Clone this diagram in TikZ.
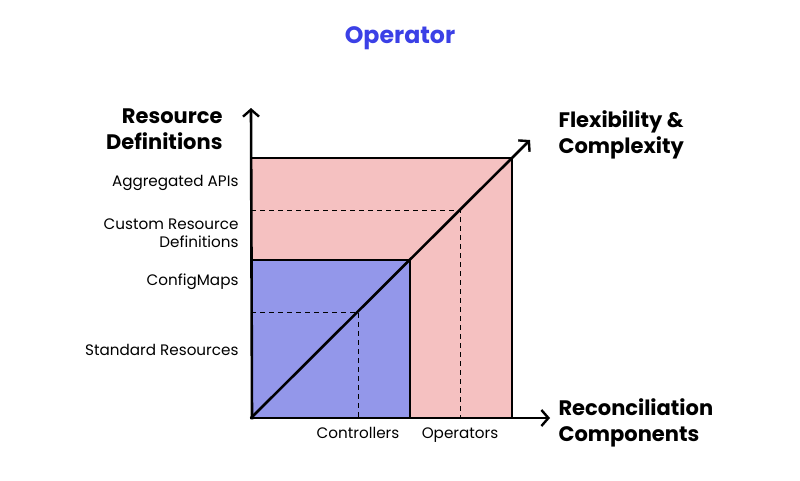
\documentclass[tikz,border=0pt]{standalone}
\usepackage{fontspec}
\setmainfont{Poppins}
\usetikzlibrary{arrows.meta}
\definecolor{titleblue}{HTML}{3B40E6}
\definecolor{pinkfill}{HTML}{F5C1C1}
\definecolor{bluefill}{HTML}{9397EA}
\tikzset{
  axis/.style={line width=2.6pt,-{Straight Barb[length=7pt,width=16pt,line width=2.4pt]}},
  region/.style={draw=black,line width=1.2pt},
  guide/.style={line width=0.9pt,dash pattern=on 5pt off 4pt},
  biglabel/.style={font=\fontsize{21}{26}\selectfont\bfseries,align=left},
  smalllabel/.style={font=\fontsize{15.2}{18}\selectfont,align=right,anchor=east},
  ticklabel/.style={font=\fontsize{15.2}{18}\selectfont,anchor=north}
}
\begin{document}
\begin{tikzpicture}[x=1pt,y=-1pt]
\useasboundingbox (0,0) rectangle (800,480);
\node[font=\fontsize{23.7}{28}\selectfont\bfseries,text=titleblue] (title) at (400,38) {Operator};
\coordinate (o) at (251,418);
\coordinate (ytop) at (251,108);
\coordinate (xend) at (550,418);
\coordinate (dend) at (530,140);
\fill[pinkfill] (251,158) rectangle (512,418);
\draw[region] (251,158) -| (512,418);
\fill[bluefill] (251,260) rectangle (410,418);
\draw[region] (251,260) -| (410,418);
\coordinate (p1) at (460,210);
\coordinate (p2) at (358,312);
\draw[guide] (251,210) -- (p1) -- (460,418);
\draw[guide] (251,312) -- (p2) -- (358,418);
\draw[axis,line cap=round] (o) -- (dend);
\draw[axis] (252,419.3) -- (ytop);
\draw[axis] (249.7,418) -- (xend);
\node[biglabel,align=right,anchor=east] (ylab) at (226,129) {Resource\\Definitions};
\node[biglabel,anchor=west] (dlab) at (555,135) {Flexibility \&\\Complexity};
\node[biglabel,anchor=west] (xlab) at (555,423) {Reconciliation\\Components};
\node[smalllabel] (agg) at (242,183) {Aggregated APIs};
\node[smalllabel] (crd) at (242,233) {Custom Resource\\Definitions};
\node[smalllabel] (cm) at (242,282) {ConfigMaps};
\node[smalllabel] (std) at (242,350) {Standard Resources};
\node[ticklabel] (ctl) at (358,424) {Controllers};
\node[ticklabel] (ops) at (460,424) {Operators};
\end{tikzpicture}
\end{document}
